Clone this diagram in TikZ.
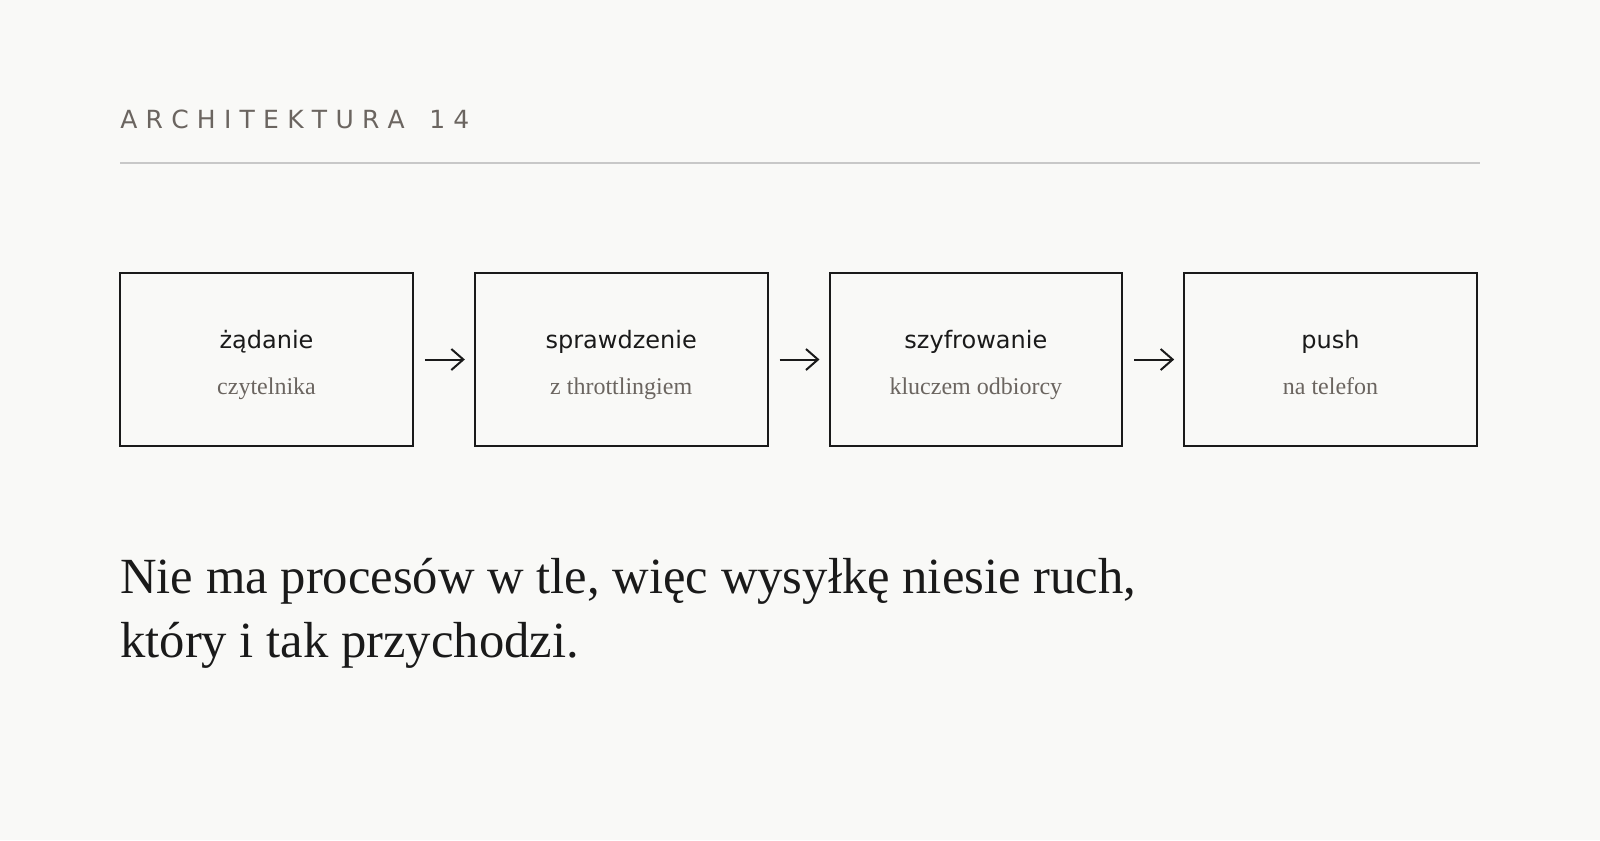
\documentclass[tikz,border=0pt]{standalone}
\usepackage{fontspec}
\setmainfont{Liberation Serif}
\setsansfont{DejaVu Sans}
\usetikzlibrary{positioning,arrows.meta}
\definecolor{paper}{HTML}{F9F9F7}
\definecolor{ink}{HTML}{1A1A1A}
\definecolor{muted}{HTML}{6B6560}
\definecolor{rulegray}{HTML}{C8C8C8}
\newcommand\trk{\kern6.2pt}
\tikzset{
	stagebox/.style={draw=ink,line width=1.5pt,minimum width=219.5pt,minimum height=130pt,inner sep=0pt},
	stagetitle/.style={anchor=base,inner sep=0pt,text=ink,font=\sffamily\fontsize{18}{22}\selectfont},
	stagesub/.style={anchor=base,inner sep=0pt,text=muted,font=\fontsize{18}{22}\selectfont},
	flow/.style={draw=ink,line width=1.5pt,-{Straight Barb[length=9pt,width=15.75pt,line width=1.5pt]},shorten <=8.25pt,shorten >=6.75pt},
}
\begin{document}
\begin{tikzpicture}[x=0.75pt,y=-0.75pt,node distance=45pt]
		\def\stagetext(#1,#2,#3){%
			\node[stagetitle](#1-title)at([yshift=7.9pt]#1.center){#2};
			\node[stagesub](#1-sub)at([yshift=-25.9pt]#1.center){#3};}%
		\fill[paper](0,0)rectangle(1600,840);
		\useasboundingbox(0,0)rectangle(1600,840);

		% header
		\node[anchor=base west,inner sep=0pt,text=muted,font=\sffamily\fontsize{18.75}{22}\selectfont]
			(head)at(120,128){A\trk R\trk C\trk H\trk I\trk T\trk E\trk K\trk T\trk U\trk R\trk A\trk\ \trk 1\trk 4};
		\coordinate(ruleL)at(120,163);
		\coordinate(ruleR)at(1480,163);
		\draw[rulegray,line width=1.1pt](ruleL)--(ruleR);

		% stages
		\node[stagebox](req)at(266.5,359.5){};
		\node[stagebox,right=of req](check){};
		\node[stagebox,right=of check](enc){};
		\node[stagebox,right=of enc](push){};
		\stagetext(req,żądanie,czytelnika)
		\stagetext(check,sprawdzenie,z throttlingiem)
		\stagetext(enc,szyfrowanie,kluczem odbiorcy)
		\stagetext(push,push,na telefon)

		\draw[flow](req)--(check);
		\draw[flow](check)--(enc);
		\draw[flow](enc)--(push);

		% caption (base = last line)
		\node[anchor=base west,inner sep=0pt,text=ink,align=left,font=\fontsize{38}{48}\selectfont]
			(note)at(120,657){Nie ma procesów w tle, więc wysyłkę niesie ruch,\\który i tak przychodzi.};
	\end{tikzpicture}
\end{document}
